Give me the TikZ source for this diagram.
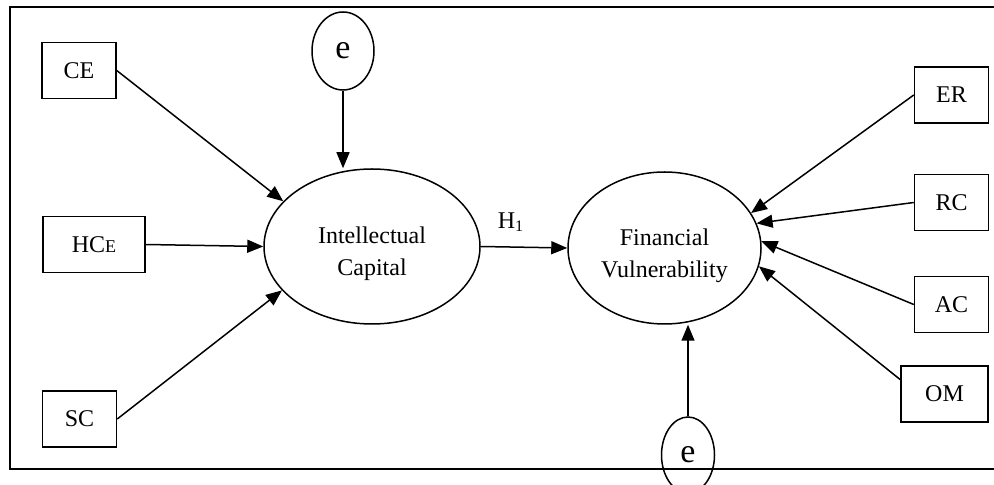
\documentclass[tikz,border=0pt]{standalone}
\usepackage{fontspec}
\setmainfont{Liberation Serif}
\usetikzlibrary{shapes.geometric,arrows.meta}
\begin{document}
\begin{tikzpicture}[x=0.5pt, y=-0.5pt,
            box/.style={rectangle, draw, line width=0.75pt, minimum width=37pt, minimum height=28pt, inner sep=0pt, font=\fontsize{12}{14}\selectfont},
            latent/.style={ellipse, draw, line width=0.75pt, inner sep=0pt, align=center, font=\fontsize{12}{16}\selectfont},
            err/.style={ellipse, draw, line width=0.75pt, inner sep=0pt, font=\fontsize{17}{20}\selectfont},
            arrow/.style={-{Triangle[length=8pt, width=6.5pt]}, line width=0.75pt}
        ]
            \useasboundingbox (0,0) rectangle (994,485);
            \draw[line width=1.1pt] (994,7) -- (10,7) -- (10,469) -- (994,469);

            \node[box] (ce) at (79,70.5) {CE};
            \node[box, minimum width=51pt] (hce) at (94,244.5) {HC{\fontsize{9}{10}\selectfont E}};
            \node[box] (sc) at (79.5,419) {SC};
            \node[box] (er) at (951.5,95) {ER};
            \node[box] (rc) at (951.5,202.5) {RC};
            \node[box] (ac) at (951.5,304.5) {AC};
            \node[box, minimum width=43.5pt] (om) at (944.5,394) {OM};

            \node[latent, minimum width=108pt, minimum height=77.5pt] (ic) at (372,246.5) {\raisebox{-3.5pt}[\height][\depth]{\begin{tabular}{@{}c@{}}Intellectual\\Capital\end{tabular}}};
            \node[latent, minimum width=96.5pt, minimum height=76pt] (fv) at (664.5,248) {\raisebox{-3.5pt}[\height][\depth]{\begin{tabular}{@{}c@{}}Financial\\Vulnerability\end{tabular}}};
            \node[err, minimum width=31pt, minimum height=39pt] (e1) at (343,51) {e};
            \node[err, minimum width=26.5pt, minimum height=38pt] (e2) at (688,455) {e};

            \draw[arrow] (ce.east) -- (ic.153);
            \draw[arrow] (hce.east) -- (ic.west);
            \draw[arrow] (sc.east) -- (ic.206);
            \draw[arrow] (e1.south) -- (e1.south |- ic.north);
            \draw[arrow] (ic.east) -- node[above=4pt, pos=0.35, font=\fontsize{12}{14}\selectfont] (h1) {H\textsubscript{1}} (fv.west);
            \draw[arrow] (er.west) -- (fv.22);
            \draw[arrow] (rc.west) -- (fv.15);
            \draw[arrow] (ac.west) -- (fv.4);
            \draw[arrow] (om.162) -- (fv.349);
            \draw[arrow] (e2.north) -- (e2.north |- fv.south);
        \end{tikzpicture}
\end{document}
